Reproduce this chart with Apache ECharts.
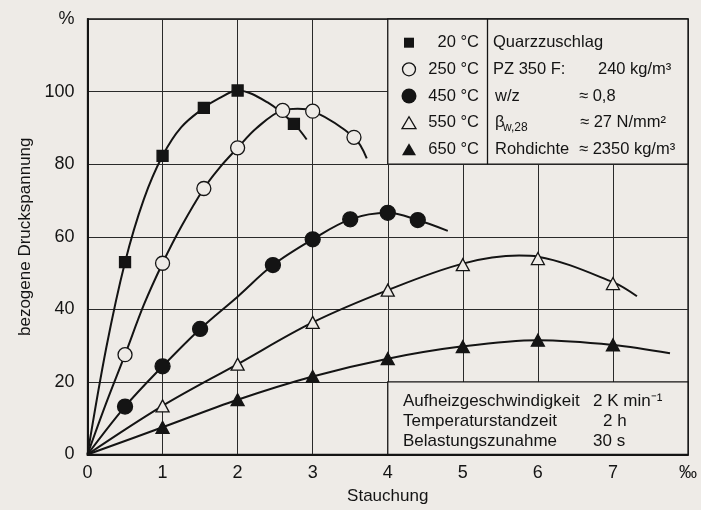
<!DOCTYPE html>
<html><head><meta charset="utf-8">
<script src="https://cdn.jsdelivr.net/npm/echarts@6/dist/echarts.min.js"></script>
<style>html,body{margin:0;padding:0;background:#eeebe7}#c{width:701px;height:510px}</style>
</head><body><div id="c"></div>
<script>
const temps = ['20 °C', '250 °C', '450 °C', '550 °C', '650 °C'];
const p20  = [[0.5,53],[1,82.3],[1.55,95.5],[2,100.3],[2.75,91.1]];
const p250 = [[0.5,27.5],[1,52.7],[1.55,73.3],[2,84.5],[2.6,94.8],[3,94.6],[3.55,87.4]];
const p450 = [[0.5,13.2],[1,24.3],[1.5,34.6],[2.47,52.2],[3,59.3],[3.5,64.8],[4,66.6],[4.4,64.6]];
const p550 = [[1,13.4],[2,24.9],[3,36.4],[4,45.3],[5,52.3],[6,54.0],[7,47.1]];
const p650 = [[1,7.5],[2,15.1],[3,21.5],[4,26.4],[5,29.7],[6,31.5],[7,30.2]];
// ---- drawn fit curves ----
const c20  = [[0,0],[0.25,29.4],[0.5,53],[0.75,70.3],[1,82.3],[1.25,90.2],[1.55,95.5],[1.75,98.1],[2,100.3],[2.4,97],[2.75,91.1],[2.92,86.8]];
const c250 = [[0,0],[0.25,14.2],[0.5,27.5],[0.75,41.2],[1,52.7],[1.25,62.8],[1.55,73.3],[1.75,78.8],[2,84.5],[2.25,89.9],[2.6,94.9],[2.8,95.3],[3,94.7],[3.55,87.4],[3.72,81.6]];
const c450 = [[0,0],[0.5,13.2],[1,24.3],[1.5,34.6],[2,43.5],[2.47,52.2],[3,59.3],[3.5,64.8],[4,66.6],[4.4,64.6],[4.8,61.6]];
const c550 = [[0,0],[1,13.4],[2,24.9],[3,36.4],[4,45.3],[5,52.6],[5.75,54.8],[6,54.5],[7,47.5],[7.32,43.6]];
const c650 = [[0,0],[1,7.5],[2,15.1],[3,21.5],[4,26.4],[5,29.8],[6,31.5],[7,30.2],[7.76,27.9]];
const xMax = 8, yMax = 120;
const xUnit = '‰', yUnit = '%';
const xName = 'Stauchung', yName = 'bezogene Druckspannung';
const infoRows = [['Quarzzuschlag',''],['PZ 350 F:','240 kg/m³'],['w/z','≈ 0,8'],['β','≈ 27 N/mm²'],['Rohdichte','≈ 2350 kg/m³']];
const condRows = [['Aufheizgeschwindigkeit','2 K min⁻¹'],['Temperaturstandzeit','2 h'],['Belastungszunahme','30 s']];

// ---- styling ----
const BG = '#eeebe7', INK = '#141414';
const FONT = '"Liberation Sans", Arial, Helvetica, sans-serif';
const pts = [p20, p250, p450, p550, p650];
const curves = [c20, c250, c450, c550, c650];
const symbols = ['rect','circle','circle','triangle','triangle'];
const sizes = [11, 14, 15, [13,12], [13,12]];
const fills = [INK, BG, INK, BG, INK];

const series = [];
pts.forEach((p, i) => {
  const s = {
    type: 'line', name: 'curve' + i, data: curves[i],
    smooth: 0.35, showSymbol: false, silent: true, z: 3,
    lineStyle: { color: INK, width: 2 }
  };
  if (i === 0) {
    s.markArea = {
      silent: true,
      itemStyle: { color: BG, borderColor: INK, borderWidth: 1.3 },
      data: [[{ coord: [4, 80] }, { coord: [8, 120] }], [{ coord: [4, 0] }, { coord: [8, 20] }]]
    };
    s.markLine = {
      silent: true, symbol: 'none', label: { show: false },
      lineStyle: { color: INK, width: 1.3, type: 'solid' },
      data: [[{ coord: [5.33, 80] }, { coord: [5.33, 120] }]]
    };
  }
  series.push(s);
  series.push({
    type: 'scatter', name: temps[i], data: p, symbol: symbols[i], symbolSize: sizes[i], z: 4,
    itemStyle: { color: fills[i], borderColor: INK, borderWidth: 1.3, opacity: 1 }
  });
});

// legend / info graphics (pixel layout)
const rowY = [42.7, 69.3, 96, 122.7, 149.3];
const g = [];
const txt = (t, x, y, align, size) => ({ type: 'text', z: 100, style: { text: t, x, y, fill: INK, font: (size || 16.5) + 'px ' + FONT, align: align || 'left', verticalAlign: 'middle' } });
g.push({ type: 'rect', z: 100, shape: { x: 404, y: rowY[0] - 5, width: 10, height: 10 }, style: { fill: INK } });
g.push({ type: 'circle', z: 100, shape: { cx: 409, cy: rowY[1], r: 6.5 }, style: { fill: BG, stroke: INK, lineWidth: 1.3 } });
g.push({ type: 'circle', z: 100, shape: { cx: 409, cy: rowY[2], r: 7.5 }, style: { fill: INK } });
g.push({ type: 'polygon', z: 100, shape: { points: [[402, rowY[3] + 6], [416, rowY[3] + 6], [409, rowY[3] - 6]] }, style: { fill: BG, stroke: INK, lineWidth: 1.3 } });
g.push({ type: 'polygon', z: 100, shape: { points: [[402, rowY[4] + 6], [416, rowY[4] + 6], [409, rowY[4] - 6]] }, style: { fill: INK } });
temps.forEach((t, i) => g.push(txt(t, 479, rowY[i], 'right')));
const leftX = [493, 493, 495, 495, 495];
const rightX = [0, 598, 579, 580, 579];
infoRows.forEach((r, i) => {
  g.push(txt(r[0], leftX[i], rowY[i]));
  if (r[1]) g.push(txt(r[1], rightX[i], rowY[i]));
});
g.push(txt('w,28', 503, rowY[3] + 5, 'left', 12));
const condY = [401.7, 421.7, 441.3];
const condX = [593, 603, 593];
condRows.forEach((r, i) => { g.push(txt(r[0], 403, condY[i], 'left', 17)); g.push(txt(r[1], condX[i], condY[i], 'left', 17)); });

const chart = echarts.init(document.getElementById('c'), null, { renderer: 'canvas' });
chart.setOption({
  backgroundColor: BG,
  animation: false,
  textStyle: { fontFamily: FONT, color: INK },
  grid: { left: 87.5, right: 13, top: 19, bottom: 55.5, show: true, borderColor: INK, borderWidth: 1.3, backgroundColor: 'transparent' },
  xAxis: {
    type: 'value', min: 0, max: xMax, interval: 1,
    axisLine: { lineStyle: { color: INK, width: 2 } }, axisTick: { show: false },
    splitLine: { show: true, lineStyle: { color: '#2a2a2a', width: 1 } },
    axisLabel: { color: INK, fontSize: 18, margin: 10, showMinLabel: true, showMaxLabel: true, formatter: v => v === xMax ? xUnit : String(v) },
    name: xName, nameLocation: 'middle', nameGap: 30, nameTextStyle: { color: INK, fontSize: 17 }
  },
  yAxis: {
    type: 'value', min: 0, max: yMax, interval: 20,
    axisLine: { show: true, lineStyle: { color: INK, width: 2 } }, axisTick: { show: false },
    splitLine: { show: true, lineStyle: { color: '#2a2a2a', width: 1 } },
    axisLabel: { color: INK, fontSize: 18, margin: 13, showMinLabel: true, showMaxLabel: true, formatter: v => v === yMax ? yUnit : String(v) },
    name: yName, nameLocation: 'middle', nameGap: 52, nameTextStyle: { color: INK, fontSize: 17 }
  },
  series: series,
  graphic: g
});
</script></body></html>
